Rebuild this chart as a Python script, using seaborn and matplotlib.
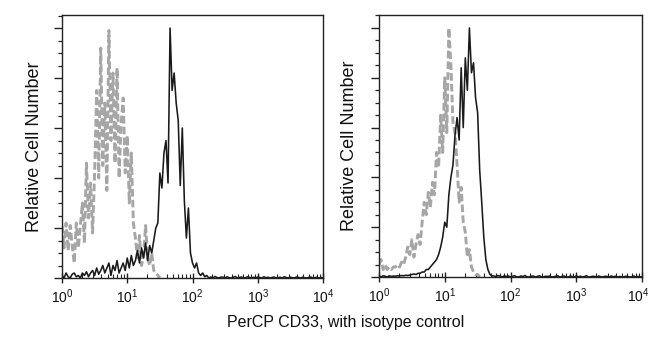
import numpy as np
import pandas as pd
import matplotlib
matplotlib.use("Agg")
import matplotlib.pyplot as plt
import matplotlib.transforms as mtransforms
from matplotlib.ticker import MultipleLocator, LogLocator, NullFormatter
import seaborn as sns

# ---------------- data (histogram counts per log channel, 32 channels / decade) ----------------
channels_per_decade = 32

left_isotype = [0.21, 0.12, 0.22, 0.11, 0.21, 0.13, 0.06, 0.22, 0.12, 0.21,
                0.30, 0.14, 0.46, 0.24, 0.38, 0.18, 0.42, 0.75, 0.40, 0.92,
                0.45, 0.70, 0.35, 0.99, 0.55, 0.82, 0.46, 0.84, 0.40, 0.62,
                0.72, 0.42, 0.57, 0.30, 0.50, 0.22, 0.16, 0.08, 0.17, 0.05,
                0.09, 0.21, 0.08, 0.05, 0.10, 0.03, 0.02, 0.01, 0.0]

left_cd33 = [0.01, 0.0, 0.02, 0.005, 0.0, 0.015, 0.02, 0.005, 0.01, 0.0, 0.02,
             0.01, 0.025, 0.005, 0.02, 0.03, 0.01, 0.04, 0.015, 0.03, 0.05,
             0.02, 0.04, 0.06, 0.01, 0.05, 0.03, 0.07, 0.02, 0.04, 0.06,
             0.03, 0.08, 0.04, 0.09, 0.05, 0.07, 0.11, 0.06, 0.12, 0.08,
             0.14, 0.07, 0.13, 0.10, 0.15, 0.20, 0.22, 0.42, 0.36, 0.50,
             0.55, 0.38, 1.0, 0.75, 0.82, 0.70, 0.63, 0.37, 0.60, 0.31,
             0.16, 0.28, 0.10, 0.06, 0.04, 0.06, 0.02, 0.01, 0.02, 0.005, 0.01, 0.0,
             0.004, 0.0, 0.006, 0.002, 0.0, 0.004, 0.003, 0.0, 0.005, 0.001,
             0.0, 0.003, 0.006, 0.0, 0.002, 0.004, 0.0, 0.001, 0.005, 0.002,
             0.0, 0.003, 0.0, 0.004, 0.002, 0.0, 0.005, 0.001, 0.003, 0.0,
             0.002, 0.004, 0.0, 0.001, 0.003, 0.0, 0.005, 0.002, 0.0, 0.003,
             0.001, 0.0, 0.004, 0.002, 0.0, 0.003, 0.001, 0.0, 0.002, 0.004,
             0.0, 0.001, 0.003, 0.0, 0.002, 0.0]

right_isotype = [0.05, 0.07, 0.03, 0.05, 0.03, 0.04, 0.03, 0.04, 0.04, 0.05,
                 0.04, 0.06, 0.05, 0.08, 0.12, 0.09, 0.15, 0.08, 0.13, 0.17,
                 0.13, 0.22, 0.30, 0.25, 0.34, 0.28, 0.38, 0.33, 0.50, 0.44,
                 0.65, 0.50, 0.80, 0.58, 1.0, 0.85, 0.62, 0.58, 0.45, 0.30,
                 0.36, 0.22, 0.18, 0.08, 0.11, 0.04, 0.02, 0.01, 0.01, 0.0]

right_cd33 = [0.005, 0.0, 0.005, 0.003, 0.0, 0.005, 0.002, 0.004, 0.003, 0.005,
              0.004, 0.006, 0.005, 0.007, 0.006, 0.008, 0.01, 0.012, 0.01, 0.015,
              0.015, 0.02, 0.02, 0.03, 0.03, 0.04, 0.05, 0.06, 0.07, 0.09,
              0.12, 0.16, 0.22, 0.20, 0.33, 0.40, 0.45, 0.57, 0.64, 0.55,
              0.84, 0.60, 0.88, 0.75, 1.0, 0.82, 0.86, 0.72, 0.66, 0.43,
              0.30, 0.16, 0.07, 0.03, 0.01, 0.005,
              0.004, 0.002, 0.006, 0.003, 0.0, 0.005, 0.002, 0.004, 0.0, 0.003,
              0.005, 0.001, 0.0, 0.004, 0.002, 0.006, 0.001, 0.0, 0.003, 0.004,
              0.0, 0.002, 0.005, 0.001, 0.0, 0.003, 0.002, 0.004, 0.0, 0.001,
              0.003, 0.005, 0.0, 0.002, 0.004, 0.001, 0.0, 0.003, 0.002, 0.0,
              0.004, 0.001, 0.003, 0.0, 0.002, 0.005, 0.0, 0.001, 0.003, 0.002,
              0.0, 0.004, 0.001, 0.0, 0.003, 0.002, 0.0, 0.004, 0.001, 0.003,
              0.0, 0.002, 0.001, 0.0, 0.003, 0.002, 0.0, 0.001, 0.004, 0.0,
              0.002, 0.001, 0.0]

decade_labels = ["10$^0$", "10$^1$", "10$^2$", "10$^3$", "10$^4$"]
y_label = "Relative Cell Number"
x_label = "PerCP CD33, with isotype control"


def to_frame(values):
    ch = np.arange(len(values))
    return pd.DataFrame({"intensity": 10 ** (ch / channels_per_decade),
                         "count": values})


# ---------------- style ----------------
sns.set_style("ticks")
plt.rcParams["font.family"] = ["Liberation Sans", "DejaVu Sans"]
plt.rcParams["mathtext.fontset"] = "custom"
plt.rcParams["mathtext.rm"] = "Liberation Sans"
plt.rcParams["mathtext.it"] = "Liberation Sans"

fig = plt.figure(figsize=(6.5, 3.42), dpi=100)
ax_left = fig.add_axes([62 / 650, 64 / 342, 261 / 650, 263 / 342])
ax_right = fig.add_axes([379 / 650, 65 / 342, 263 / 650, 262 / 342])

GRAY = "#a6a6a6"
BLACK = "#1a1a1a"

for ax, iso, cd, pad in [(ax_left, left_isotype, left_cd33, 7),
                         (ax_right, right_isotype, right_cd33, 9)]:
    sns.lineplot(data=to_frame(iso), x="intensity", y="count", ax=ax,
                 color=GRAY, linewidth=2.1, estimator=None,
                 linestyle=(0, (2.6, 1.1)), legend=False)
    sns.lineplot(data=to_frame(cd), x="intensity", y="count", ax=ax,
                 color=BLACK, linewidth=1.15, estimator=None, legend=False)

    ax.set_xscale("log")
    ax.set_xlim(1, 1e4)
    ax.set_ylim(0, 1.052)
    ax.set_xticks([1, 10, 100, 1000, 10000])
    ax.set_xticklabels(decade_labels, fontsize=10)
    ax.xaxis.set_minor_locator(LogLocator(base=10, subs=np.arange(2, 10)))
    ax.xaxis.set_minor_formatter(NullFormatter())
    ax.yaxis.set_major_locator(MultipleLocator(0.2))
    ax.yaxis.set_minor_locator(MultipleLocator(0.05))
    ax.tick_params(axis="y", which="major", direction="out", length=6,
                   width=1, labelleft=False, color="#222222")
    ax.tick_params(axis="y", which="minor", direction="out", length=3,
                   width=0.9, color="#222222")
    ax.tick_params(axis="x", which="major", direction="inout", length=7,
                   width=1, pad=3, color="#222222", labelcolor="#111111")
    ax.tick_params(axis="x", which="minor", direction="in", length=3,
                   width=0.8, color="#222222")
    for sp in ax.spines.values():
        sp.set_visible(True)
        sp.set_linewidth(1.0)
        sp.set_color("#222222")
    ax.set_xlabel("")
    ax.set_ylabel(y_label, fontsize=13, labelpad=pad, color="#111111")

# nudge the right-most tick label of the right panel so it stays inside the figure
last = ax_right.get_xticklabels()[-1]
last.set_transform(last.get_transform() +
                   mtransforms.ScaledTranslation(-4 / 100, 0, fig.dpi_scale_trans))

fig.text(346 / 650, 1 - 322 / 342, x_label, ha="center", va="center",
         fontsize=11.5, color="#111111")

fig.savefig("out.png", dpi=100)
